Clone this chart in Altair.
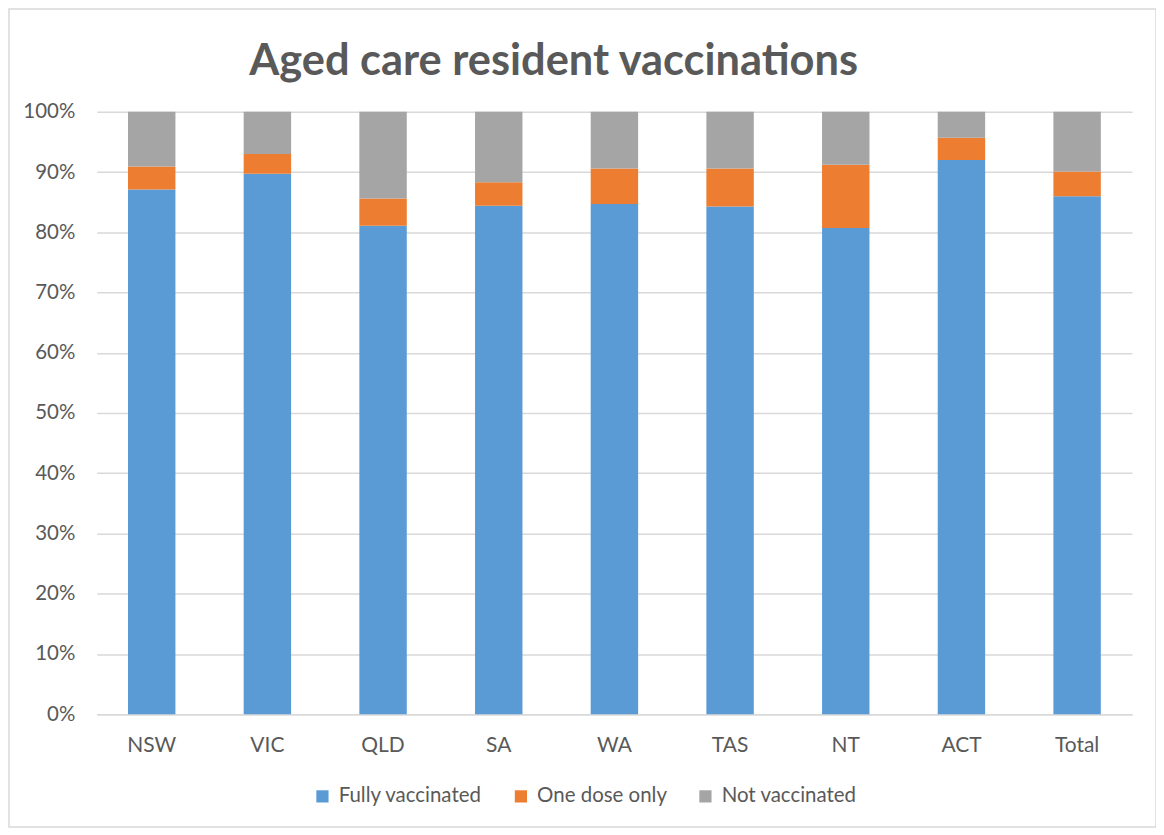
import altair as alt
import pandas as pd

states = ["NSW", "VIC", "QLD", "SA", "WA", "TAS", "NT", "ACT", "Total"]
fully = [87.1, 89.7, 81.1, 84.4, 84.7, 84.3, 80.7, 92.0, 86.0]
one_dose = [3.8, 3.3, 4.5, 3.9, 5.9, 6.3, 10.5, 3.7, 4.1]
series = ["Fully vaccinated", "One dose only", "Not vaccinated"]
colors = ["#5B9BD5", "#ED7D31", "#A5A5A5"]
title_text = "Aged care resident vaccinations"

rows = []
for s, f, o in zip(states, fully, one_dose):
    n = round(100 - f - o, 1)
    for i, (name, v) in enumerate(zip(series, [f, o, n])):
        rows.append({"State": s, "Series": name, "Value": v / 100, "Order": i})
df = pd.DataFrame(rows)

FONT = "Lato"
GREY = "#595959"

bars = alt.Chart(df).mark_bar().encode(
    x=alt.X("State:N", sort=states, title=None,
            scale=alt.Scale(paddingInner=0.59, paddingOuter=0.27),
            axis=alt.Axis(labelAngle=0, labelFontSize=21, labelColor=GREY, labelFont=FONT,
                          ticks=False, domainColor="#D9D9D9", domainWidth=1.5,
                          labelPadding=20, grid=False)),
    y=alt.Y("Value:Q", stack="zero", title=None,
            scale=alt.Scale(domain=[0, 1], nice=False),
            axis=alt.Axis(format=".0%", values=[i / 10 for i in range(11)],
                          labelFontSize=20.5, labelColor=GREY, labelFont=FONT,
                          ticks=False, domain=False, gridColor="#D9D9D9", gridWidth=1.5,
                          labelPadding=22)),
    color=alt.Color("Series:N", sort=series,
                    scale=alt.Scale(domain=series, range=colors),
                    legend=alt.Legend(title=None, orient="none", direction="horizontal",
                                      legendX=216, legendY=676, symbolType="square",
                                      symbolSize=150, symbolStrokeWidth=0,
                                      labelFontSize=20.5, labelColor=GREY, labelFont=FONT,
                                      columnPadding=28, labelOffset=6)),
    order=alt.Order("Order:Q", sort="ascending"),
)

frame = alt.Chart(pd.DataFrame({"a": [0]})).mark_rect(
    fill="transparent", stroke="#D9D9D9", strokeWidth=1.5
).encode(x=alt.value(-88), x2=alt.value(1062), y=alt.value(-103), y2=alt.value(717))

title = alt.Chart(pd.DataFrame({"t": [title_text]})).mark_text(
    font=FONT, fontSize=43.5, fontWeight="bold", color=GREY, align="center",
    baseline="alphabetic"
).encode(text="t:N", x=alt.value(458), y=alt.value(-37))

chart = alt.layer(frame, bars, title).properties(
    width=1038, height=604,
    padding={"left": 89, "top": 103, "right": 24, "bottom": 115},
    autosize=alt.AutoSizeParams(type="none"),
).configure_view(stroke=None)

chart.save("out.html", embed_options={"renderer": "svg", "actions": False})
